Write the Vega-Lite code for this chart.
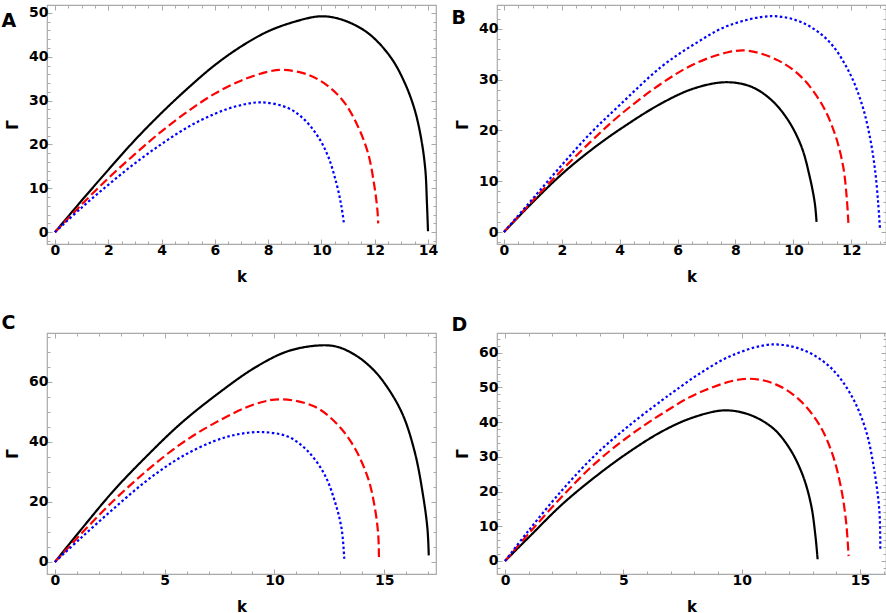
{
  "$schema": "https://vega.github.io/schema/vega-lite/v6.json",
  "background": "white",
  "padding": {"left": 0, "top": 0, "right": 1, "bottom": 0},
  "config": {
    "view": {"stroke": "#a9a9a9", "strokeWidth": 1.2},
    "axis": {
      "domain": false,
      "grid": false,
      "tickColor": "#a9a9a9",
      "tickWidth": 1,
      "format": "d",
      "labelFont": "DejaVu Sans",
      "labelFontWeight": "bold",
      "labelFontSize": 14,
      "labelColor": "black",
      "labelOverlap": false,
      "labelFlush": false,
      "labelPadding": 4,
      "titleFont": "DejaVu Sans",
      "titleFontWeight": "bold",
      "titleFontSize": 15,
      "titleColor": "black"
    },
    "axisX": {"titlePadding": 10},
    "axisY": {"titlePadding": 8},
    "axisTop": {"minExtent": 0, "maxExtent": 0},
    "axisRight": {"minExtent": 0, "maxExtent": 0},
    "title": {"font": "DejaVu Sans", "fontSize": 19, "fontWeight": "bold", "color": "black", "anchor": "start", "frame": "bounds", "baseline": "top"}
  },
  "data": {
    "values": [
      {"panel": "A", "curve": "curve 1", "k": 0, "gamma": 0},
      {"panel": "A", "curve": "curve 1", "k": 1, "gamma": 7.2},
      {"panel": "A", "curve": "curve 1", "k": 2, "gamma": 14.2},
      {"panel": "A", "curve": "curve 1", "k": 3, "gamma": 21.0},
      {"panel": "A", "curve": "curve 1", "k": 4, "gamma": 27.2},
      {"panel": "A", "curve": "curve 1", "k": 5, "gamma": 32.9},
      {"panel": "A", "curve": "curve 1", "k": 6, "gamma": 38.1},
      {"panel": "A", "curve": "curve 1", "k": 7, "gamma": 42.4},
      {"panel": "A", "curve": "curve 1", "k": 8, "gamma": 45.8},
      {"panel": "A", "curve": "curve 1", "k": 9, "gamma": 48.0},
      {"panel": "A", "curve": "curve 1", "k": 9.9, "gamma": 49.2},
      {"panel": "A", "curve": "curve 1", "k": 10.5, "gamma": 48.9},
      {"panel": "A", "curve": "curve 1", "k": 11.2, "gamma": 47.4},
      {"panel": "A", "curve": "curve 1", "k": 11.87, "gamma": 44.8},
      {"panel": "A", "curve": "curve 1", "k": 12.62, "gamma": 39.7},
      {"panel": "A", "curve": "curve 1", "k": 13.13, "gamma": 34.0},
      {"panel": "A", "curve": "curve 1", "k": 13.5, "gamma": 27.9},
      {"panel": "A", "curve": "curve 1", "k": 13.75, "gamma": 21.1},
      {"panel": "A", "curve": "curve 1", "k": 13.9, "gamma": 14.2},
      {"panel": "A", "curve": "curve 1", "k": 13.96, "gamma": 6.6},
      {"panel": "A", "curve": "curve 1", "k": 14.0, "gamma": 0.2},
      {"panel": "A", "curve": "curve 2", "k": 0, "gamma": 0},
      {"panel": "A", "curve": "curve 2", "k": 1, "gamma": 6.3},
      {"panel": "A", "curve": "curve 2", "k": 2, "gamma": 12.3},
      {"panel": "A", "curve": "curve 2", "k": 3, "gamma": 17.8},
      {"panel": "A", "curve": "curve 2", "k": 4, "gamma": 23.0},
      {"panel": "A", "curve": "curve 2", "k": 5, "gamma": 27.6},
      {"panel": "A", "curve": "curve 2", "k": 6, "gamma": 31.6},
      {"panel": "A", "curve": "curve 2", "k": 7, "gamma": 34.6},
      {"panel": "A", "curve": "curve 2", "k": 8, "gamma": 36.6},
      {"panel": "A", "curve": "curve 2", "k": 8.6, "gamma": 37.0},
      {"panel": "A", "curve": "curve 2", "k": 9.5, "gamma": 35.9},
      {"panel": "A", "curve": "curve 2", "k": 10.25, "gamma": 33.3},
      {"panel": "A", "curve": "curve 2", "k": 10.87, "gamma": 29.5},
      {"panel": "A", "curve": "curve 2", "k": 11.37, "gamma": 24.1},
      {"panel": "A", "curve": "curve 2", "k": 11.75, "gamma": 18.0},
      {"panel": "A", "curve": "curve 2", "k": 11.97, "gamma": 11.2},
      {"panel": "A", "curve": "curve 2", "k": 12.1, "gamma": 5.1},
      {"panel": "A", "curve": "curve 2", "k": 12.13, "gamma": 2.0},
      {"panel": "A", "curve": "curve 3", "k": 0, "gamma": 0},
      {"panel": "A", "curve": "curve 3", "k": 1, "gamma": 5.6},
      {"panel": "A", "curve": "curve 3", "k": 2, "gamma": 10.8},
      {"panel": "A", "curve": "curve 3", "k": 3, "gamma": 15.7},
      {"panel": "A", "curve": "curve 3", "k": 4, "gamma": 20.1},
      {"panel": "A", "curve": "curve 3", "k": 5, "gamma": 24.0},
      {"panel": "A", "curve": "curve 3", "k": 6, "gamma": 27.0},
      {"panel": "A", "curve": "curve 3", "k": 6.87, "gamma": 28.8},
      {"panel": "A", "curve": "curve 3", "k": 7.74, "gamma": 29.6},
      {"panel": "A", "curve": "curve 3", "k": 8.75, "gamma": 28.3},
      {"panel": "A", "curve": "curve 3", "k": 9.37, "gamma": 25.6},
      {"panel": "A", "curve": "curve 3", "k": 9.87, "gamma": 21.8},
      {"panel": "A", "curve": "curve 3", "k": 10.25, "gamma": 17.3},
      {"panel": "A", "curve": "curve 3", "k": 10.56, "gamma": 11.2},
      {"panel": "A", "curve": "curve 3", "k": 10.75, "gamma": 5.9},
      {"panel": "A", "curve": "curve 3", "k": 10.85, "gamma": 1.7},
      {"panel": "B", "curve": "curve 1", "k": 0, "gamma": 0},
      {"panel": "B", "curve": "curve 1", "k": 1, "gamma": 5.9},
      {"panel": "B", "curve": "curve 1", "k": 2, "gamma": 11.4},
      {"panel": "B", "curve": "curve 1", "k": 3, "gamma": 16.1},
      {"panel": "B", "curve": "curve 1", "k": 4, "gamma": 20.2},
      {"panel": "B", "curve": "curve 1", "k": 5.43, "gamma": 25.3},
      {"panel": "B", "curve": "curve 1", "k": 6.58, "gamma": 28.3},
      {"panel": "B", "curve": "curve 1", "k": 7.68, "gamma": 29.5},
      {"panel": "B", "curve": "curve 1", "k": 8.55, "gamma": 28.6},
      {"panel": "B", "curve": "curve 1", "k": 9.24, "gamma": 26.0},
      {"panel": "B", "curve": "curve 1", "k": 9.82, "gamma": 22.0},
      {"panel": "B", "curve": "curve 1", "k": 10.28, "gamma": 16.8},
      {"panel": "B", "curve": "curve 1", "k": 10.56, "gamma": 11.0},
      {"panel": "B", "curve": "curve 1", "k": 10.74, "gamma": 5.7},
      {"panel": "B", "curve": "curve 1", "k": 10.8, "gamma": 2.0},
      {"panel": "B", "curve": "curve 2", "k": 0, "gamma": 0},
      {"panel": "B", "curve": "curve 2", "k": 1, "gamma": 6.2},
      {"panel": "B", "curve": "curve 2", "k": 2, "gamma": 12.2},
      {"panel": "B", "curve": "curve 2", "k": 3, "gamma": 17.8},
      {"panel": "B", "curve": "curve 2", "k": 4, "gamma": 23.0},
      {"panel": "B", "curve": "curve 2", "k": 5.43, "gamma": 29.2},
      {"panel": "B", "curve": "curve 2", "k": 6.58, "gamma": 33.1},
      {"panel": "B", "curve": "curve 2", "k": 7.74, "gamma": 35.4},
      {"panel": "B", "curve": "curve 2", "k": 8.43, "gamma": 35.7},
      {"panel": "B", "curve": "curve 2", "k": 9.47, "gamma": 33.8},
      {"panel": "B", "curve": "curve 2", "k": 10.28, "gamma": 30.5},
      {"panel": "B", "curve": "curve 2", "k": 10.97, "gamma": 25.3},
      {"panel": "B", "curve": "curve 2", "k": 11.43, "gamma": 19.4},
      {"panel": "B", "curve": "curve 2", "k": 11.72, "gamma": 12.9},
      {"panel": "B", "curve": "curve 2", "k": 11.84, "gamma": 7.0},
      {"panel": "B", "curve": "curve 2", "k": 11.9, "gamma": 1.8},
      {"panel": "B", "curve": "curve 3", "k": 0, "gamma": 0},
      {"panel": "B", "curve": "curve 3", "k": 1, "gamma": 6.6},
      {"panel": "B", "curve": "curve 3", "k": 2, "gamma": 13.2},
      {"panel": "B", "curve": "curve 3", "k": 3, "gamma": 19.5},
      {"panel": "B", "curve": "curve 3", "k": 4, "gamma": 25.0},
      {"panel": "B", "curve": "curve 3", "k": 5.43, "gamma": 32.5},
      {"panel": "B", "curve": "curve 3", "k": 6.58, "gamma": 37.0},
      {"panel": "B", "curve": "curve 3", "k": 7.74, "gamma": 40.6},
      {"panel": "B", "curve": "curve 3", "k": 9.24, "gamma": 42.5},
      {"panel": "B", "curve": "curve 3", "k": 10.28, "gamma": 41.3},
      {"panel": "B", "curve": "curve 3", "k": 11.2, "gamma": 37.7},
      {"panel": "B", "curve": "curve 3", "k": 11.9, "gamma": 31.8},
      {"panel": "B", "curve": "curve 3", "k": 12.36, "gamma": 25.3},
      {"panel": "B", "curve": "curve 3", "k": 12.64, "gamma": 18.8},
      {"panel": "B", "curve": "curve 3", "k": 12.82, "gamma": 12.3},
      {"panel": "B", "curve": "curve 3", "k": 12.93, "gamma": 5.7},
      {"panel": "B", "curve": "curve 3", "k": 12.99, "gamma": 0.8},
      {"panel": "C", "curve": "curve 1", "k": 0, "gamma": 0},
      {"panel": "C", "curve": "curve 1", "k": 1.17, "gamma": 10.6},
      {"panel": "C", "curve": "curve 1", "k": 2.68, "gamma": 23.8},
      {"panel": "C", "curve": "curve 1", "k": 4.2, "gamma": 35.4},
      {"panel": "C", "curve": "curve 1", "k": 5.71, "gamma": 46.0},
      {"panel": "C", "curve": "curve 1", "k": 7.23, "gamma": 55.0},
      {"panel": "C", "curve": "curve 1", "k": 9.12, "gamma": 64.8},
      {"panel": "C", "curve": "curve 1", "k": 10.64, "gamma": 70.3},
      {"panel": "C", "curve": "curve 1", "k": 12.15, "gamma": 72.2},
      {"panel": "C", "curve": "curve 1", "k": 12.91, "gamma": 71.6},
      {"panel": "C", "curve": "curve 1", "k": 13.67, "gamma": 69.0},
      {"panel": "C", "curve": "curve 1", "k": 14.27, "gamma": 65.7},
      {"panel": "C", "curve": "curve 1", "k": 14.88, "gamma": 60.9},
      {"panel": "C", "curve": "curve 1", "k": 15.79, "gamma": 50.0},
      {"panel": "C", "curve": "curve 1", "k": 16.39, "gamma": 36.7},
      {"panel": "C", "curve": "curve 1", "k": 16.77, "gamma": 22.2},
      {"panel": "C", "curve": "curve 1", "k": 16.97, "gamma": 11.1},
      {"panel": "C", "curve": "curve 1", "k": 17.03, "gamma": 2.2},
      {"panel": "C", "curve": "curve 2", "k": 0, "gamma": 0},
      {"panel": "C", "curve": "curve 2", "k": 1.17, "gamma": 9.2},
      {"panel": "C", "curve": "curve 2", "k": 2.68, "gamma": 20.5},
      {"panel": "C", "curve": "curve 2", "k": 4.2, "gamma": 30.5},
      {"panel": "C", "curve": "curve 2", "k": 5.71, "gamma": 39.2},
      {"panel": "C", "curve": "curve 2", "k": 7.23, "gamma": 46.1},
      {"panel": "C", "curve": "curve 2", "k": 9.12, "gamma": 52.6},
      {"panel": "C", "curve": "curve 2", "k": 10.33, "gamma": 54.2},
      {"panel": "C", "curve": "curve 2", "k": 11.85, "gamma": 51.7},
      {"panel": "C", "curve": "curve 2", "k": 12.91, "gamma": 45.5},
      {"panel": "C", "curve": "curve 2", "k": 13.67, "gamma": 37.8},
      {"panel": "C", "curve": "curve 2", "k": 14.27, "gamma": 27.8},
      {"panel": "C", "curve": "curve 2", "k": 14.58, "gamma": 17.8},
      {"panel": "C", "curve": "curve 2", "k": 14.73, "gamma": 8.9},
      {"panel": "C", "curve": "curve 2", "k": 14.76, "gamma": 1.7},
      {"panel": "C", "curve": "curve 3", "k": 0, "gamma": 0},
      {"panel": "C", "curve": "curve 3", "k": 1.17, "gamma": 7.9},
      {"panel": "C", "curve": "curve 3", "k": 2.68, "gamma": 17.8},
      {"panel": "C", "curve": "curve 3", "k": 4.2, "gamma": 27.2},
      {"panel": "C", "curve": "curve 3", "k": 5.71, "gamma": 34.8},
      {"panel": "C", "curve": "curve 3", "k": 7.23, "gamma": 40.2},
      {"panel": "C", "curve": "curve 3", "k": 8.3, "gamma": 42.5},
      {"panel": "C", "curve": "curve 3", "k": 9.42, "gamma": 43.3},
      {"panel": "C", "curve": "curve 3", "k": 10.64, "gamma": 41.7},
      {"panel": "C", "curve": "curve 3", "k": 11.55, "gamma": 36.7},
      {"panel": "C", "curve": "curve 3", "k": 12.3, "gamma": 28.9},
      {"panel": "C", "curve": "curve 3", "k": 12.76, "gamma": 20.0},
      {"panel": "C", "curve": "curve 3", "k": 13.06, "gamma": 11.1},
      {"panel": "C", "curve": "curve 3", "k": 13.18, "gamma": 1.1},
      {"panel": "D", "curve": "curve 1", "k": 0, "gamma": 0},
      {"panel": "D", "curve": "curve 1", "k": 1, "gamma": 6.8},
      {"panel": "D", "curve": "curve 1", "k": 2.41, "gamma": 16.3},
      {"panel": "D", "curve": "curve 1", "k": 3.82, "gamma": 24.3},
      {"panel": "D", "curve": "curve 1", "k": 5.24, "gamma": 31.4},
      {"panel": "D", "curve": "curve 1", "k": 6.65, "gamma": 37.4},
      {"panel": "D", "curve": "curve 1", "k": 7.92, "gamma": 41.3},
      {"panel": "D", "curve": "curve 1", "k": 9.26, "gamma": 43.4},
      {"panel": "D", "curve": "curve 1", "k": 10.31, "gamma": 42.2},
      {"panel": "D", "curve": "curve 1", "k": 11.3, "gamma": 38.4},
      {"panel": "D", "curve": "curve 1", "k": 12.01, "gamma": 32.6},
      {"panel": "D", "curve": "curve 1", "k": 12.57, "gamma": 24.9},
      {"panel": "D", "curve": "curve 1", "k": 12.93, "gamma": 16.3},
      {"panel": "D", "curve": "curve 1", "k": 13.11, "gamma": 7.7},
      {"panel": "D", "curve": "curve 1", "k": 13.21, "gamma": 0.5},
      {"panel": "D", "curve": "curve 2", "k": 0, "gamma": 0},
      {"panel": "D", "curve": "curve 2", "k": 1, "gamma": 7.9},
      {"panel": "D", "curve": "curve 2", "k": 2.41, "gamma": 18.6},
      {"panel": "D", "curve": "curve 2", "k": 3.82, "gamma": 28.2},
      {"panel": "D", "curve": "curve 2", "k": 5.24, "gamma": 36.0},
      {"panel": "D", "curve": "curve 2", "k": 6.65, "gamma": 42.5},
      {"panel": "D", "curve": "curve 2", "k": 8.2, "gamma": 48.5},
      {"panel": "D", "curve": "curve 2", "k": 10.17, "gamma": 52.5},
      {"panel": "D", "curve": "curve 2", "k": 11.44, "gamma": 50.9},
      {"panel": "D", "curve": "curve 2", "k": 12.43, "gamma": 46.5},
      {"panel": "D", "curve": "curve 2", "k": 13.28, "gamma": 39.3},
      {"panel": "D", "curve": "curve 2", "k": 13.84, "gamma": 30.7},
      {"panel": "D", "curve": "curve 2", "k": 14.2, "gamma": 21.1},
      {"panel": "D", "curve": "curve 2", "k": 14.41, "gamma": 11.5},
      {"panel": "D", "curve": "curve 2", "k": 14.52, "gamma": 1.4},
      {"panel": "D", "curve": "curve 3", "k": 0, "gamma": 0},
      {"panel": "D", "curve": "curve 3", "k": 1, "gamma": 8.8},
      {"panel": "D", "curve": "curve 3", "k": 2.41, "gamma": 20.4},
      {"panel": "D", "curve": "curve 3", "k": 3.82, "gamma": 30.6},
      {"panel": "D", "curve": "curve 3", "k": 5.24, "gamma": 39.0},
      {"panel": "D", "curve": "curve 3", "k": 6.65, "gamma": 46.4},
      {"panel": "D", "curve": "curve 3", "k": 7.21, "gamma": 49.2},
      {"panel": "D", "curve": "curve 3", "k": 8.2, "gamma": 53.9},
      {"panel": "D", "curve": "curve 3", "k": 9.61, "gamma": 59.3},
      {"panel": "D", "curve": "curve 3", "k": 11.3, "gamma": 62.4},
      {"panel": "D", "curve": "curve 3", "k": 12.71, "gamma": 60.5},
      {"panel": "D", "curve": "curve 3", "k": 13.84, "gamma": 55.2},
      {"panel": "D", "curve": "curve 3", "k": 14.69, "gamma": 47.0},
      {"panel": "D", "curve": "curve 3", "k": 15.26, "gamma": 37.4},
      {"panel": "D", "curve": "curve 3", "k": 15.61, "gamma": 25.9},
      {"panel": "D", "curve": "curve 3", "k": 15.82, "gamma": 14.4},
      {"panel": "D", "curve": "curve 3", "k": 15.86, "gamma": 2.9}
    ]
  },
  "columns": 2,
  "spacing": {"row": 28, "column": 11},
  "concat": [
    {
      "title": {"text": "A", "offset": -26, "dx": -4},
      "width": 389,
      "height": 239,
      "transform": [{"filter": "datum.panel == 'A'"}],
      "layer": [
        {
          "mark": {"type": "line", "interpolate": "catmull-rom", "strokeWidth": 2.2, "clip": true},
          "encoding": {
            "x": {"field": "k", "type": "quantitative", "title": "k",
              "scale": {"domain": [-0.3, 14.3], "nice": false, "zero": false},
              "axis": {"orient": "bottom", "values": [0,0.5,1,1.5,2,2.5,3,3.5,4,4.5,5,5.5,6,6.5,7,7.5,8,8.5,9,9.5,10,10.5,11,11.5,12,12.5,13,13.5,14],
                "tickSize": {"condition": {"test": "datum.value % 2 === 0", "value": -5}, "value": -3},
                "labelExpr": "datum.value % 2 === 0 ? datum.label : ''"}},
            "y": {"field": "gamma", "type": "quantitative", "title": "Γ",
              "scale": {"domain": [-2.7, 51.8], "nice": false, "zero": false},
              "axis": {"orient": "left", "values": [-2,0,2,4,6,8,10,12,14,16,18,20,22,24,26,28,30,32,34,36,38,40,42,44,46,48,50],
                "tickSize": {"condition": {"test": "datum.value % 10 === 0", "value": -5}, "value": -3},
                "labelExpr": "datum.value % 10 === 0 ? datum.label : ''"}},
            "color": {"field": "curve", "type": "nominal", "legend": null,
              "scale": {"domain": ["curve 1", "curve 2", "curve 3"], "range": ["#000000", "#ff0000", "#0000ff"]}},
            "strokeDash": {"field": "curve", "type": "nominal", "legend": null,
              "scale": {"domain": ["curve 1", "curve 2", "curve 3"], "range": [[1, 0], [9, 4], [2.5, 2.5]]}}
          }
        },
        {
          "mark": {"type": "point", "opacity": 0},
          "encoding": {
            "x": {"field": "k", "type": "quantitative",
              "axis": {"orient": "top", "labels": false, "title": null, "values": [0,0.5,1,1.5,2,2.5,3,3.5,4,4.5,5,5.5,6,6.5,7,7.5,8,8.5,9,9.5,10,10.5,11,11.5,12,12.5,13,13.5,14],
                "tickSize": {"condition": {"test": "datum.value % 2 === 0", "value": -5}, "value": -3}}},
            "y": {"field": "gamma", "type": "quantitative",
              "axis": {"orient": "right", "labels": false, "title": null, "values": [-2,0,2,4,6,8,10,12,14,16,18,20,22,24,26,28,30,32,34,36,38,40,42,44,46,48,50],
                "tickSize": {"condition": {"test": "datum.value % 10 === 0", "value": -5}, "value": -3}}}
          }
        }
      ],
      "resolve": {"axis": {"x": "independent", "y": "independent"}}
    },
    {
      "title": {"text": "B", "offset": -26, "dx": -4},
      "width": 389,
      "height": 239,
      "transform": [{"filter": "datum.panel == 'B'"}],
      "layer": [
        {
          "mark": {"type": "line", "interpolate": "catmull-rom", "strokeWidth": 2.2, "clip": true},
          "encoding": {
            "x": {"field": "k", "type": "quantitative", "title": "k",
              "scale": {"domain": [-0.24, 13.2], "nice": false, "zero": false},
              "axis": {"orient": "bottom", "values": [0,0.5,1,1.5,2,2.5,3,3.5,4,4.5,5,5.5,6,6.5,7,7.5,8,8.5,9,9.5,10,10.5,11,11.5,12,12.5,13],
                "tickSize": {"condition": {"test": "datum.value % 2 === 0", "value": -5}, "value": -3},
                "labelExpr": "datum.value % 2 === 0 ? datum.label : ''"}},
            "y": {"field": "gamma", "type": "quantitative", "title": "Γ",
              "scale": {"domain": [-2.35, 44.7], "nice": false, "zero": false},
              "axis": {"orient": "left", "values": [-2,0,2,4,6,8,10,12,14,16,18,20,22,24,26,28,30,32,34,36,38,40,42,44],
                "tickSize": {"condition": {"test": "datum.value % 10 === 0", "value": -5}, "value": -3},
                "labelExpr": "datum.value % 10 === 0 ? datum.label : ''"}},
            "color": {"field": "curve", "type": "nominal", "legend": null,
              "scale": {"domain": ["curve 1", "curve 2", "curve 3"], "range": ["#000000", "#ff0000", "#0000ff"]}},
            "strokeDash": {"field": "curve", "type": "nominal", "legend": null,
              "scale": {"domain": ["curve 1", "curve 2", "curve 3"], "range": [[1, 0], [9, 4], [2.5, 2.5]]}}
          }
        },
        {
          "mark": {"type": "point", "opacity": 0},
          "encoding": {
            "x": {"field": "k", "type": "quantitative",
              "axis": {"orient": "top", "labels": false, "title": null, "values": [0,0.5,1,1.5,2,2.5,3,3.5,4,4.5,5,5.5,6,6.5,7,7.5,8,8.5,9,9.5,10,10.5,11,11.5,12,12.5,13],
                "tickSize": {"condition": {"test": "datum.value % 2 === 0", "value": -5}, "value": -3}}},
            "y": {"field": "gamma", "type": "quantitative",
              "axis": {"orient": "right", "labels": false, "title": null, "values": [-2,0,2,4,6,8,10,12,14,16,18,20,22,24,26,28,30,32,34,36,38,40,42,44],
                "tickSize": {"condition": {"test": "datum.value % 10 === 0", "value": -5}, "value": -3}}}
          }
        }
      ],
      "resolve": {"axis": {"x": "independent", "y": "independent"}}
    },
    {
      "title": {"text": "C", "offset": -3, "dx": -4},
      "width": 389,
      "height": 241,
      "transform": [{"filter": "datum.panel == 'C'"}],
      "layer": [
        {
          "mark": {"type": "line", "interpolate": "catmull-rom", "strokeWidth": 2.2, "clip": true},
          "encoding": {
            "x": {"field": "k", "type": "quantitative", "title": "k",
              "scale": {"domain": [-0.36, 17.36], "nice": false, "zero": false},
              "axis": {"orient": "bottom", "values": [0,1,2,3,4,5,6,7,8,9,10,11,12,13,14,15,16,17],
                "tickSize": {"condition": {"test": "datum.value % 5 === 0", "value": -5}, "value": -3},
                "labelExpr": "datum.value % 5 === 0 ? datum.label : ''"}},
            "y": {"field": "gamma", "type": "quantitative", "title": "Γ",
              "scale": {"domain": [-4, 76.3], "nice": false, "zero": false},
              "axis": {"orient": "left", "values": [0,5,10,15,20,25,30,35,40,45,50,55,60,65,70,75],
                "tickSize": {"condition": {"test": "datum.value % 20 === 0", "value": -5}, "value": -3},
                "labelExpr": "datum.value % 20 === 0 ? datum.label : ''"}},
            "color": {"field": "curve", "type": "nominal", "legend": null,
              "scale": {"domain": ["curve 1", "curve 2", "curve 3"], "range": ["#000000", "#ff0000", "#0000ff"]}},
            "strokeDash": {"field": "curve", "type": "nominal", "legend": null,
              "scale": {"domain": ["curve 1", "curve 2", "curve 3"], "range": [[1, 0], [9, 4], [2.5, 2.5]]}}
          }
        },
        {
          "mark": {"type": "point", "opacity": 0},
          "encoding": {
            "x": {"field": "k", "type": "quantitative",
              "axis": {"orient": "top", "labels": false, "title": null, "values": [0,1,2,3,4,5,6,7,8,9,10,11,12,13,14,15,16,17],
                "tickSize": {"condition": {"test": "datum.value % 5 === 0", "value": -5}, "value": -3}}},
            "y": {"field": "gamma", "type": "quantitative",
              "axis": {"orient": "right", "labels": false, "title": null, "values": [0,5,10,15,20,25,30,35,40,45,50,55,60,65,70,75],
                "tickSize": {"condition": {"test": "datum.value % 20 === 0", "value": -5}, "value": -3}}}
          }
        }
      ],
      "resolve": {"axis": {"x": "independent", "y": "independent"}}
    },
    {
      "title": {"text": "D", "offset": -3, "dx": -4},
      "width": 389,
      "height": 241,
      "transform": [{"filter": "datum.panel == 'D'"}],
      "layer": [
        {
          "mark": {"type": "line", "interpolate": "catmull-rom", "strokeWidth": 2.2, "clip": true},
          "encoding": {
            "x": {"field": "k", "type": "quantitative", "title": "k",
              "scale": {"domain": [-0.34, 16.1], "nice": false, "zero": false},
              "axis": {"orient": "bottom", "values": [0,1,2,3,4,5,6,7,8,9,10,11,12,13,14,15,16],
                "tickSize": {"condition": {"test": "datum.value % 5 === 0", "value": -5}, "value": -3},
                "labelExpr": "datum.value % 5 === 0 ? datum.label : ''"}},
            "y": {"field": "gamma", "type": "quantitative", "title": "Γ",
              "scale": {"domain": [-3.75, 65.7], "nice": false, "zero": false},
              "axis": {"orient": "left", "values": [-2,0,2,4,6,8,10,12,14,16,18,20,22,24,26,28,30,32,34,36,38,40,42,44,46,48,50,52,54,56,58,60,62,64],
                "tickSize": {"condition": {"test": "datum.value % 10 === 0", "value": -5}, "value": -3},
                "labelExpr": "datum.value % 10 === 0 ? datum.label : ''"}},
            "color": {"field": "curve", "type": "nominal", "legend": null,
              "scale": {"domain": ["curve 1", "curve 2", "curve 3"], "range": ["#000000", "#ff0000", "#0000ff"]}},
            "strokeDash": {"field": "curve", "type": "nominal", "legend": null,
              "scale": {"domain": ["curve 1", "curve 2", "curve 3"], "range": [[1, 0], [9, 4], [2.5, 2.5]]}}
          }
        },
        {
          "mark": {"type": "point", "opacity": 0},
          "encoding": {
            "x": {"field": "k", "type": "quantitative",
              "axis": {"orient": "top", "labels": false, "title": null, "values": [0,1,2,3,4,5,6,7,8,9,10,11,12,13,14,15,16],
                "tickSize": {"condition": {"test": "datum.value % 5 === 0", "value": -5}, "value": -3}}},
            "y": {"field": "gamma", "type": "quantitative",
              "axis": {"orient": "right", "labels": false, "title": null, "values": [-2,0,2,4,6,8,10,12,14,16,18,20,22,24,26,28,30,32,34,36,38,40,42,44,46,48,50,52,54,56,58,60,62,64],
                "tickSize": {"condition": {"test": "datum.value % 10 === 0", "value": -5}, "value": -3}}}
          }
        }
      ],
      "resolve": {"axis": {"x": "independent", "y": "independent"}}
    }
  ]
}
